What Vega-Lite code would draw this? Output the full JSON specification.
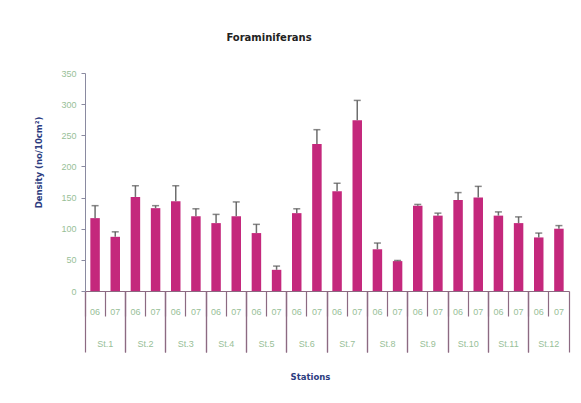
{
  "$schema": "https://vega.github.io/schema/vega-lite/v6.json",
  "width": 484,
  "height": 218,
  "autosize": "none",
  "padding": {"left": 85, "top": 73, "right": 12, "bottom": 112},
  "background": "white",
  "title": {"text": "Foraminiferans", "font": "DejaVu Sans", "fontSize": 10, "fontWeight": "bold", "color": "#222222", "anchor": "middle", "dx": -58, "offset": 26},
  "config": {
    "view": {"stroke": null},
    "axis": {"labelFont": "Liberation Sans", "labelFontSize": 9, "labelColor": "#98c098", "titleFont": "DejaVu Sans", "titleFontSize": 8.5, "titleFontWeight": "bold", "titleColor": "#2c3c80", "grid": false}
  },
  "data": {"values": [
    {"station": "St.1", "month": "06", "key": "St.1-06", "density": 117, "upper": 137},
    {"station": "St.1", "month": "07", "key": "St.1-07", "density": 87, "upper": 95},
    {"station": "St.2", "month": "06", "key": "St.2-06", "density": 151, "upper": 169},
    {"station": "St.2", "month": "07", "key": "St.2-07", "density": 133, "upper": 137},
    {"station": "St.3", "month": "06", "key": "St.3-06", "density": 144, "upper": 169},
    {"station": "St.3", "month": "07", "key": "St.3-07", "density": 120, "upper": 132},
    {"station": "St.4", "month": "06", "key": "St.4-06", "density": 109, "upper": 123},
    {"station": "St.4", "month": "07", "key": "St.4-07", "density": 120, "upper": 143},
    {"station": "St.5", "month": "06", "key": "St.5-06", "density": 93, "upper": 107},
    {"station": "St.5", "month": "07", "key": "St.5-07", "density": 34, "upper": 40},
    {"station": "St.6", "month": "06", "key": "St.6-06", "density": 125, "upper": 132},
    {"station": "St.6", "month": "07", "key": "St.6-07", "density": 236, "upper": 259},
    {"station": "St.7", "month": "06", "key": "St.7-06", "density": 160, "upper": 173},
    {"station": "St.7", "month": "07", "key": "St.7-07", "density": 274, "upper": 306},
    {"station": "St.8", "month": "06", "key": "St.8-06", "density": 67, "upper": 77},
    {"station": "St.8", "month": "07", "key": "St.8-07", "density": 48, "upper": 49},
    {"station": "St.9", "month": "06", "key": "St.9-06", "density": 137, "upper": 139},
    {"station": "St.9", "month": "07", "key": "St.9-07", "density": 121, "upper": 125},
    {"station": "St.10", "month": "06", "key": "St.10-06", "density": 146, "upper": 158},
    {"station": "St.10", "month": "07", "key": "St.10-07", "density": 150, "upper": 168},
    {"station": "St.11", "month": "06", "key": "St.11-06", "density": 121, "upper": 127},
    {"station": "St.11", "month": "07", "key": "St.11-07", "density": 109, "upper": 119},
    {"station": "St.12", "month": "06", "key": "St.12-06", "density": 86, "upper": 93},
    {"station": "St.12", "month": "07", "key": "St.12-07", "density": 100, "upper": 105}
  ]},
  "resolve": {"scale": {"x": "independent"}, "axis": {"x": "independent"}},
  "layer": [
    {
      "encoding": {
        "x": {"field": "key", "type": "nominal", "sort": null,
          "scale": {"paddingInner": 0, "paddingOuter": 0},
          "axis": {"orient": "bottom", "title": null, "labelAngle": 0, "labelExpr": "split(datum.value, '-')[1]", "bandPosition": 0, "tickSize": 25, "tickColor": "#8c6a82", "tickWidth": 1.2, "domainColor": "#8c6a82", "domainWidth": 1.2, "labelPadding": -9, "labelAlign": "center", "labelOverlap": false}
        },
        "y": {"field": "density", "type": "quantitative",
          "scale": {"domain": [0, 350], "nice": false},
          "axis": {"title": "Density (no/10cm²)", "values": [0, 50, 100, 150, 200, 250, 300, 350], "labelOverlap": false, "tickSize": 4, "tickColor": "#8a8aa0", "domainColor": "#8a8aa0", "labelPadding": 5, "titleX": -47, "titleY": 89, "titleAngle": -90, "titleBaseline": "middle", "titleAlign": "center"}}
      },
      "layer": [
        {"mark": {"type": "bar", "color": "#c4287c", "width": {"band": 0.47}}},
        {"mark": {"type": "rule", "color": "#6e6e6e", "strokeWidth": 1.5},
         "encoding": {"y2": {"field": "upper"}}},
        {"mark": {"type": "tick", "color": "#555555", "thickness": 1.5, "size": 7},
         "encoding": {"y": {"field": "upper", "type": "quantitative", "axis": {"title": "Density (no/10cm²)", "values": [0, 50, 100, 150, 200, 250, 300, 350], "labelOverlap": false, "tickSize": 4, "tickColor": "#8a8aa0", "domainColor": "#8a8aa0", "labelPadding": 5, "titleX": -47, "titleY": 89, "titleAngle": -90, "titleBaseline": "middle", "titleAlign": "center"}}}}
      ]
    },
    {
      "mark": {"type": "rule", "opacity": 0},
      "encoding": {
        "x": {"field": "station", "type": "nominal", "sort": null,
          "scale": {"paddingInner": 0, "paddingOuter": 0},
          "axis": {"orient": "bottom", "title": "Stations", "labelAngle": 0, "bandPosition": 0, "tickSize": 61, "tickColor": "#8c6a82", "tickWidth": 1.2, "domain": false, "labelPadding": -13, "labelAlign": "center", "labelOverlap": false, "titleX": 225, "titleY": 85, "titleBaseline": "middle", "titleAlign": "center"}
        }
      }
    },
    {
      "mark": {"type": "rule", "opacity": 0},
      "encoding": {
        "x": {"field": "station", "type": "nominal", "sort": null,
          "scale": {"paddingInner": 0, "paddingOuter": 0},
          "axis": {"orient": "bottom", "title": null, "labels": false, "bandPosition": 1, "tickSize": 61, "tickColor": "#8c6a82", "tickWidth": 1.2, "domain": false}
        }
      }
    }
  ]
}
